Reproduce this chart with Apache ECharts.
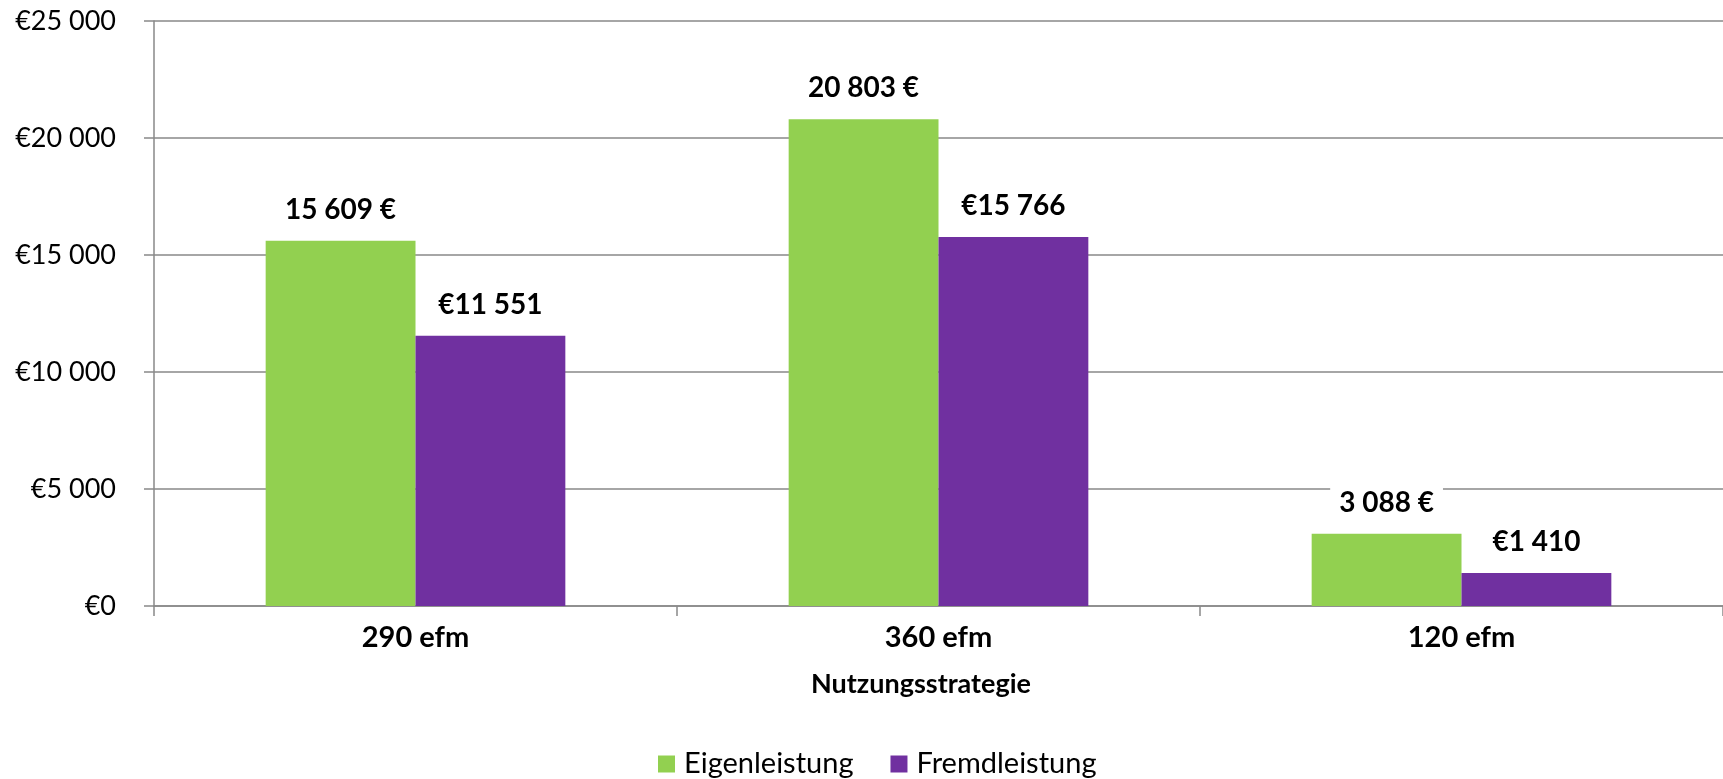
<!DOCTYPE html>
<html>
<head>
<meta charset="utf-8">
<title>Nutzungsstrategie</title>
<script src="https://cdn.jsdelivr.net/npm/echarts@6/dist/echarts.min.js"></script>
<style>
  html, body { margin: 0; padding: 0; background: #ffffff; }
  #chart { width: 1723px; height: 779px; }
</style>
</head>
<body>
<div id="chart"></div>
<script>
// Kosten je Nutzungsstrategie
const categories = ['290 efm', '360 efm', '120 efm'];
const seriesNames = ['Eigenleistung', 'Fremdleistung'];
const eigenleistung = [15609, 20803, 3088];
const fremdleistung = [11551, 15766, 1410];
const yTicks = { min: 0, max: 25000, interval: 5000 };
const axisTitle = 'Nutzungsstrategie';

const FONT = 'Lato, "Open Sans", sans-serif';
const GREEN = '#92D050';
const PURPLE = '#7030A0';
const AXIS_GREY = '#898989';

// thousands grouped with a space: 15609 -> "15 609"
function group(v) {
  return String(Math.round(v)).replace(/\B(?=(\d{3})+(?!\d))/g, ' ');
}

const labelBase = {
  show: true,
  position: 'top',
  distance: 15,
  fontFamily: FONT,
  fontWeight: 'bold',
  fontSize: 28,
  lineHeight: 28,
  color: '#000000',
  backgroundColor: '#ffffff',
  padding: [2, 9]
};

const chart = echarts.init(document.getElementById('chart'), null, { renderer: 'canvas' });

chart.setOption({
  animation: false,
  backgroundColor: '#ffffff',
  textStyle: { fontFamily: FONT },
  grid: { left: 154, right: -3, top: 21, bottom: 173, containLabel: false },
  legend: {
    data: seriesNames,
    left: 653,
    top: 744,
    itemWidth: 17,
    itemHeight: 17,
    itemGap: 37,
    icon: 'rect',
    textStyle: { fontFamily: FONT, fontSize: 29, lineHeight: 30, color: '#000000', padding: [0, 0, 0, 4] },
    selectedMode: false
  },
  xAxis: {
    type: 'category',
    data: categories,
    name: axisTitle,
    nameLocation: 'middle',
    nameGap: 65,
    nameTextStyle: {
      fontFamily: FONT, fontWeight: 'bold', fontSize: 27, color: '#000000',
      padding: [0, 35, 0, 0]
    },
    axisLine: { show: true, lineStyle: { color: AXIS_GREY, width: 1.5 } },
    axisTick: { show: true, length: 10, inside: false, alignWithLabel: false, lineStyle: { color: AXIS_GREY, width: 1.5 } },
    axisLabel: { fontFamily: FONT, fontWeight: 'bold', fontSize: 29, color: '#000000', margin: 17 },
    splitLine: { show: false }
  },
  yAxis: {
    type: 'value',
    min: yTicks.min,
    max: yTicks.max,
    interval: yTicks.interval,
    axisLine: { show: true, lineStyle: { color: AXIS_GREY, width: 1.5 } },
    axisTick: { show: true, length: 10, inside: false, lineStyle: { color: AXIS_GREY, width: 1.5 } },
    axisLabel: {
      fontFamily: FONT, fontSize: 27, color: '#000000', margin: 38,
      formatter: v => '€' + group(v)
    },
    splitLine: { show: true, lineStyle: { color: AXIS_GREY, width: 1.5 } }
  },
  series: [
    {
      name: seriesNames[0],
      type: 'bar',
      data: eigenleistung,
      itemStyle: { color: GREEN },
      barGap: '0%',
      barCategoryGap: '42.7%',
      label: Object.assign({}, labelBase, { formatter: p => group(p.value) + ' €' })
    },
    {
      name: seriesNames[1],
      type: 'bar',
      data: fremdleistung,
      itemStyle: { color: PURPLE },
      barGap: '0%',
      barCategoryGap: '42.7%',
      label: Object.assign({}, labelBase, { formatter: p => '€' + group(p.value) })
    }
  ]
});
</script>
</body>
</html>
